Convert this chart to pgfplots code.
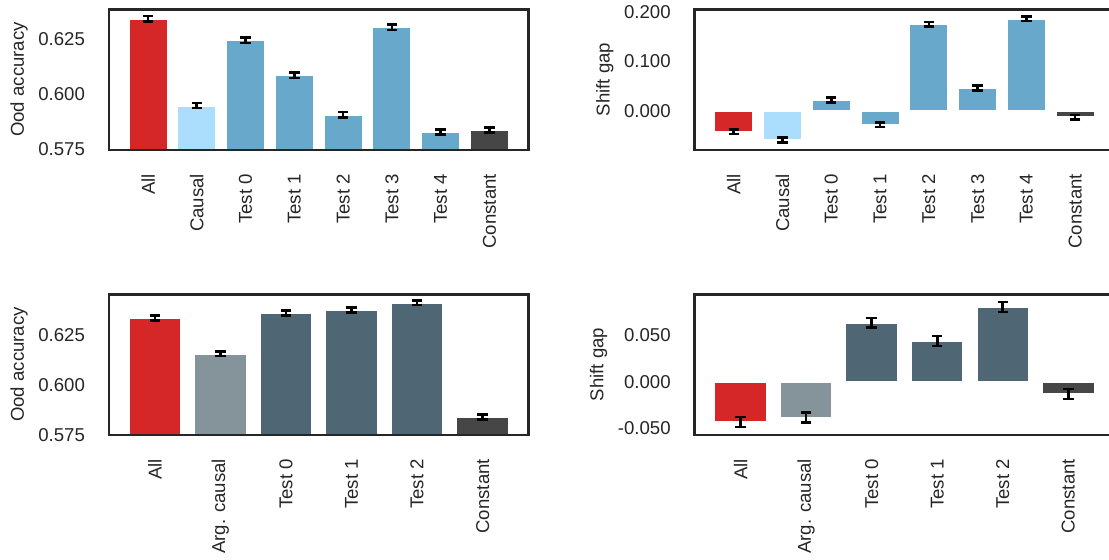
\documentclass[border=0pt]{standalone}
\usepackage{fontspec}
\setmainfont{Liberation Sans}
\usepackage{pgfplots}
\pgfplotsset{compat=1.18}
\definecolor{cred}{RGB}{214,39,40}
\definecolor{clight}{RGB}{170,222,252}
\definecolor{csteel}{RGB}{103,168,203}
\definecolor{cdark}{RGB}{70,70,70}
\definecolor{cargc}{RGB}{133,148,155}
\definecolor{cslate}{RGB}{79,103,117}
\definecolor{tgray}{RGB}{38,38,38}

\pgfplotsset{
 panel/.style={scale only axis, width=209.75pt, height=70.25pt, anchor=north west,
   axis line style={tgray, line width=1.25pt},
   major tick length=0pt, tick style={draw=none},
   scaled y ticks=false,
   /pgf/number format/assume math mode=true,
   yticklabel style={/pgf/number format/fixed, /pgf/number format/fixed zerofill, /pgf/number format/precision=3},
   tick label style={font=\fontsize{9.3}{11}\selectfont, text=tgray},
   yticklabel shift=8.5pt, xticklabel shift=8.6pt,
   xticklabel style={rotate=90, anchor=east},
   label style={font=\fontsize{9.3}{11}\selectfont, text=tgray},
   ylabel style={yshift=-1.5pt},
   ybar, bar width=0.8, bar shift=0pt,
   every axis plot/.append style={draw=white, line width=1pt},
   error bars/y dir=both, error bars/y explicit,
   error bars/error bar style={line width=1.3pt, black},
   error bars/error mark options={rotate=90, mark size=2.6pt, line width=1.3pt, black},
   axis on top,
 },
}

\begin{document}
\begin{tikzpicture}
% top left
\begin{axis}[panel, at={(54.5pt,-4.65pt)}, xmin=-0.8, xmax=7.8, ymin=0.5749, ymax=0.6384,
  ytick={0.575,0.6,0.625}, xtick={0,...,7},
  xticklabels={All,Causal,Test 0,Test 1,Test 2,Test 3,Test 4,Constant}, ylabel={Ood accuracy}]
\addplot[fill=cred] coordinates {(0,0.6342) +- (0,0.0012)};
\addplot[fill=clight] coordinates {(1,0.5949) +- (0,0.0012)};
\addplot[fill=csteel] coordinates {(2,0.6244) +- (0,0.0012) (3,0.6086) +- (0,0.0012) (4,0.5908) +- (0,0.0012) (5,0.6303) +- (0,0.0012) (6,0.5830) +- (0,0.0012)};
\addplot[fill=cdark] coordinates {(7,0.5838) +- (0,0.0012)};
\end{axis}
% top right
\begin{axis}[panel, at={(347.35pt,-4.65pt)}, xmin=-0.8, xmax=7.8, ymin=-0.0787, ymax=0.2047,
  ytick={0,0.1,0.2}, xtick={0,...,7},
  xticklabels={All,Causal,Test 0,Test 1,Test 2,Test 3,Test 4,Constant}, ylabel={Shift gap}]
\addplot[fill=cred] coordinates {(0,-0.042) +- (0,0.0047)};
\addplot[fill=clight] coordinates {(1,-0.059) +- (0,0.0047)};
\addplot[fill=csteel] coordinates {(2,0.022) +- (0,0.0047) (3,-0.028) +- (0,0.0047) (4,0.1747) +- (0,0.0047) (5,0.046) +- (0,0.0047) (6,0.186) +- (0,0.0047)};
\addplot[fill=cdark] coordinates {(7,-0.013) +- (0,0.0047)};
\end{axis}
% bottom left
\begin{axis}[panel, at={(54.5pt,-147.15pt)}, xmin=-0.7, xmax=5.7, ymin=0.5749, ymax=0.6453,
  ytick={0.575,0.6,0.625}, xtick={0,...,5},
  xticklabels={All,Arg. causal,Test 0,Test 1,Test 2,Constant}, ylabel={Ood accuracy}]
\addplot[fill=cred] coordinates {(0,0.6335) +- (0,0.0012)};
\addplot[fill=cargc] coordinates {(1,0.6155) +- (0,0.0012)};
\addplot[fill=cslate] coordinates {(2,0.6359) +- (0,0.0012) (3,0.6374) +- (0,0.0012) (4,0.6411) +- (0,0.0012)};
\addplot[fill=cdark] coordinates {(5,0.5838) +- (0,0.0012)};
\end{axis}
% bottom right
\begin{axis}[panel, at={(347.35pt,-147.15pt)}, xmin=-0.7, xmax=5.7, ymin=-0.0572, ymax=0.0942,
  ytick={-0.05,0,0.05}, xtick={0,...,5},
  xticklabels={All,Arg. causal,Test 0,Test 1,Test 2,Constant}, ylabel={Shift gap}]
\addplot[fill=cred] coordinates {(0,-0.0435) +- (0,0.0053)};
\addplot[fill=cargc] coordinates {(1,-0.0386) +- (0,0.0053)};
\addplot[fill=cslate] coordinates {(2,0.0635) +- (0,0.0053) (3,0.0439) +- (0,0.0053) (4,0.0804) +- (0,0.0053)};
\addplot[fill=cdark] coordinates {(5,-0.0133) +- (0,0.0053)};
\end{axis}
\pgfresetboundingbox
\path (0,0) rectangle (554.5pt,-280pt);
\end{tikzpicture}
\end{document}
